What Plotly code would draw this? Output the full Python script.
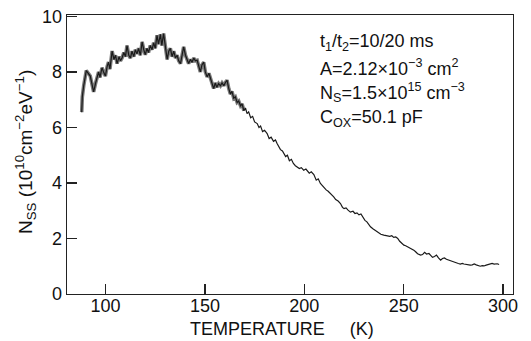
import plotly.graph_objects as go

# Temperature (K) and N_ss (1e10 cm^-2 eV^-1)
temperature = [
    88.0, 88.3, 89.0, 90.3, 91.3, 92.3, 93.2, 94.0, 95.0, 96.0, 96.5, 97.2, 98.2, 99.0, 99.9,
    100.8, 101.5, 102.2, 103.3, 104.2, 105.0, 105.8, 106.8, 107.5, 108.3, 109.2, 110.0, 110.8,
    111.7, 112.5, 113.3, 114.2, 115.0, 115.8, 116.6, 117.5, 118.4, 119.2, 120.0, 120.8, 121.6,
    122.5, 123.4, 124.2, 125.0, 125.9, 126.6, 127.6, 128.3, 129.2, 130.0, 131.0, 131.8, 132.6,
    133.5, 134.3, 135.2, 136.0, 136.8, 137.7, 138.5, 139.3, 140.2, 141.0, 141.8, 142.7, 143.5,
    144.4, 145.2, 146.1, 147.0, 147.7, 148.5, 149.4, 150.2, 151.1, 152.0, 152.8, 153.6, 154.4,
    155.2, 156.0, 156.9, 157.8, 158.6, 159.5, 160.3, 161.1, 162.0, 162.8, 163.6, 164.5, 165.3,
    166.2, 167.0, 167.9, 168.7, 169.6, 170.4, 171.2, 172.0, 173.0, 174.0, 175.0, 176.3, 177.2,
    178.0, 179.0, 180.0, 181.3, 182.3, 183.3, 184.5, 185.5, 186.3, 187.2, 188.0, 189.0, 189.7,
    190.6, 191.5, 192.5, 193.5, 194.5, 195.5, 196.4, 197.5, 198.5, 199.7, 200.8, 201.4, 202.5,
    203.5, 204.8, 206.0, 207.0, 208.1, 209.0, 210.0, 211.0, 212.0, 213.2, 214.0, 214.8, 215.8,
    217.0, 218.2, 219.2, 220.0, 221.0, 222.0, 223.2, 224.5, 225.5, 226.5, 227.5, 228.5, 229.5,
    230.5, 231.5, 232.5, 233.3, 234.5, 235.5, 236.5, 237.5, 238.5, 240.0, 241.5, 243.0, 244.0,
    245.0, 246.0, 247.0, 248.0, 249.0, 250.1, 251.0, 252.0, 253.0, 254.0, 255.1, 256.0, 257.0,
    258.5, 259.5, 260.5, 261.5, 262.7, 263.5, 264.5, 265.5, 266.5, 267.5, 268.6, 269.5, 270.5,
    271.5, 272.5, 273.6, 274.5, 275.5, 276.5, 277.5, 278.5, 279.5, 280.3, 281.5, 282.5, 283.5,
    284.5, 285.5, 286.5, 287.5, 288.5, 289.5, 290.4, 291.5, 292.5, 293.5, 294.5, 295.5, 296.5,
    297.1, 298.0,
]
nss = [
    6.55, 7.1, 7.5, 8.05, 7.95, 7.85, 7.55, 7.28, 7.6, 7.95, 8.0, 7.8, 8.15, 8.0, 7.85,
    8.2, 8.35, 8.1, 8.75, 8.45, 8.6, 8.3, 8.55, 8.4, 8.5, 8.7, 8.55, 8.95,
    8.6, 8.5, 8.75, 8.55, 8.8, 8.65, 8.85, 8.6, 9.08, 8.8, 8.62, 8.85, 8.7,
    8.95, 8.8, 9.05, 8.85, 9.32, 9.0, 9.35, 8.95, 9.38, 8.9, 8.45, 8.75, 8.85,
    8.55, 8.75, 8.5, 8.6, 8.4, 8.3, 8.6, 8.9, 8.6, 8.45, 8.3, 8.45, 8.35,
    8.5, 8.4, 8.42, 8.2, 8.0, 8.25, 8.35, 8.0, 7.82, 7.95, 7.75, 7.55, 7.4,
    7.6, 7.45, 7.58, 7.5, 7.6, 7.5, 7.62, 7.7, 7.4, 7.2, 7.3, 7.05, 7.1,
    6.9, 6.95, 6.78, 6.85, 6.6, 6.7, 6.5, 6.56, 6.35, 6.4, 6.2, 6.14, 6.0,
    6.05, 5.85, 5.9, 5.78, 5.6, 5.65, 5.5, 5.55, 5.42, 5.3, 5.2, 5.15, 5.06,
    4.95, 5.0, 4.8, 4.85, 4.7, 4.62, 4.58, 4.52, 4.55, 4.46, 4.5, 4.46, 4.35,
    4.4, 4.3, 4.1, 4.15, 3.98, 3.9, 3.85, 3.75, 3.7, 3.62, 3.55, 3.5, 3.4,
    3.35, 3.26, 3.12, 3.08, 3.1, 3.02, 2.95, 2.98, 2.9, 2.92, 2.85, 2.88, 2.75,
    2.65, 2.6, 2.48, 2.42, 2.35, 2.3, 2.25, 2.2, 2.15, 2.12, 2.1, 2.08, 2.1,
    2.04, 2.06, 2.0, 1.9, 1.82, 1.76, 1.74, 1.7, 1.68, 1.62, 1.58, 1.52, 1.45,
    1.40, 1.42, 1.50, 1.44, 1.46, 1.38, 1.32, 1.35, 1.4, 1.3, 1.22, 1.28, 1.3,
    1.25, 1.22, 1.2, 1.17, 1.14, 1.12, 1.1, 1.08, 1.1, 1.08, 1.06, 1.07, 1.04,
    1.05, 1.08, 1.05, 1.02, 1.0, 1.02, 1.01, 1.04, 1.06, 1.08, 1.10, 1.08, 1.10,
    1.09, 1.06,
]
band_end_temperature = 170.0  # noisy thick band region ends here

x_ticks = [100, 150, 200, 250, 300]
y_ticks = [0, 2, 4, 6, 8, 10]

info_lines = [
    "t<sub>1</sub>/t<sub>2</sub>=10/20 ms",
    "A=2.12×10<sup>−3</sup> cm<sup>2</sup>",
    "N<sub>S</sub>=1.5×10<sup>15</sup> cm<sup>−3</sup>",
    "C<sub>OX</sub>=50.1 pF",
]

FONT = "Liberation Sans, Arial, sans-serif"

band_x = [t for t in temperature if t <= band_end_temperature]
band_y = nss[:len(band_x)]

fig = go.Figure()
fig.add_trace(go.Scatter(x=band_x, y=band_y, mode="lines",
                         line=dict(color="#7a7a7a", width=3.6), hoverinfo="skip"))
fig.add_trace(go.Scatter(x=temperature, y=nss, mode="lines",
                         line=dict(color="#1a1a1a", width=1.2)))

L, R, T, B = 67, 18, 15, 47
W, H = 531, 341
pw, ph = W - L - R, H - T - B

for i, line in enumerate(info_lines):
    ypx = 42 + i * 25.5
    fig.add_annotation(x=(318 - L) / pw, y=(H - B - ypx) / ph, xref="paper", yref="paper",
                       text=line, showarrow=False, xanchor="left", yanchor="middle",
                       font=dict(family=FONT, size=18, color="#111"))

fig.add_annotation(x=(282 - L) / pw, y=(H - B - 329) / ph, xref="paper", yref="paper",
                   text="TEMPERATURE\u00a0\u00a0\u00a0\u00a0\u00a0(K)", showarrow=False,
                   xanchor="center", yanchor="middle",
                   font=dict(family=FONT, size=18, color="#111"))
fig.add_annotation(x=(25 - L) / pw, y=(H - B - 152) / ph, xref="paper", yref="paper",
                   text="N<sub>SS</sub> (10<sup>10</sup>cm<sup>−2</sup>eV<sup>−1</sup>)",
                   showarrow=False, textangle=-90, xanchor="center", yanchor="middle",
                   font=dict(family=FONT, size=19, color="#111"))

axis_common = dict(showline=True, linecolor="#222", linewidth=1.3, mirror=True,
                   ticks="inside", ticklen=10, tickwidth=1.3, tickcolor="#222",
                   showgrid=False, zeroline=False, automargin=False,
                   tickfont=dict(family=FONT, size=18, color="#111"))

fig.update_layout(
    width=W, height=H, margin=dict(l=L, r=R, t=T, b=B, autoexpand=False),
    plot_bgcolor="white", paper_bgcolor="white", showlegend=False,
    xaxis=dict(range=[80.6, 305.0], tickvals=x_ticks, ticklabelstandoff=-5, **axis_common),
    yaxis=dict(range=[0, 10.05], tickvals=y_ticks, **axis_common),
)

fig.write_html("out.html", config={"displayModeBar": False, "staticPlot": True},
               post_script="document.body.style.margin='0';document.body.style.overflow='hidden';")
